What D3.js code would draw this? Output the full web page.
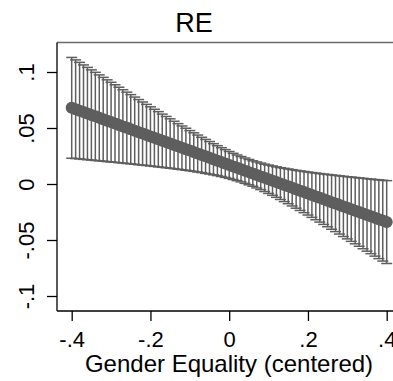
<!DOCTYPE html>
<html>
<head>
<meta charset="utf-8">
<script src="https://cdn.jsdelivr.net/npm/d3@7"></script>
<style>
  html, body { margin: 0; padding: 0; background: #fff; }
  svg { display: block; }
  text { font-family: "Liberation Sans", Arial, Helvetica, sans-serif; fill: #000; }
</style>
</head>
<body>
<svg id="chart" width="393" height="381"></svg>
<script>
// Predicted effect across centered gender equality, with 95% confidence limits
const xValues = [
  -0.40, -0.39, -0.38, -0.37, -0.36, -0.35, -0.34, -0.33, -0.32, -0.31,
  -0.30, -0.29, -0.28, -0.27, -0.26, -0.25, -0.24, -0.23, -0.22, -0.21,
  -0.20, -0.19, -0.18, -0.17, -0.16, -0.15, -0.14, -0.13, -0.12, -0.11,
  -0.10, -0.09, -0.08, -0.07, -0.06, -0.05, -0.04, -0.03, -0.02, -0.01,
   0.00,  0.01,  0.02,  0.03,  0.04,  0.05,  0.06,  0.07,  0.08,  0.09,
   0.10,  0.11,  0.12,  0.13,  0.14,  0.15,  0.16,  0.17,  0.18,  0.19,
   0.20,  0.21,  0.22,  0.23,  0.24,  0.25,  0.26,  0.27,  0.28,  0.29,
   0.30,  0.31,  0.32,  0.33,  0.34,  0.35,  0.36,  0.37,  0.38,  0.39,
   0.40
];
const estimate = [
  0.0680, 0.0667, 0.0655, 0.0642, 0.0629, 0.0616, 0.0604, 0.0591, 0.0578, 0.0565,
  0.0553, 0.0540, 0.0527, 0.0514, 0.0502, 0.0489, 0.0476, 0.0463, 0.0451, 0.0438,
  0.0425, 0.0412, 0.0400, 0.0387, 0.0374, 0.0361, 0.0349, 0.0336, 0.0323, 0.0310,
  0.0298, 0.0285, 0.0272, 0.0259, 0.0247, 0.0234, 0.0221, 0.0208, 0.0196, 0.0183,
  0.0170, 0.0157, 0.0145, 0.0132, 0.0119, 0.0106, 0.0094, 0.0081, 0.0068, 0.0055,
  0.0043, 0.0030, 0.0017, 0.0004, -0.0009, -0.0021, -0.0034, -0.0047, -0.0060, -0.0072,
  -0.0085, -0.0098, -0.0111, -0.0123, -0.0136, -0.0149, -0.0162, -0.0174, -0.0187, -0.0200,
  -0.0213, -0.0225, -0.0238, -0.0251, -0.0264, -0.0276, -0.0289, -0.0302, -0.0315, -0.0327,
  -0.0340
];
const upper = [
  0.1130, 0.1108, 0.1086, 0.1063, 0.1041, 0.1019, 0.0997, 0.0974, 0.0952, 0.0930,
  0.0908, 0.0886, 0.0864, 0.0842, 0.0820, 0.0798, 0.0776, 0.0754, 0.0732, 0.0711,
  0.0689, 0.0667, 0.0646, 0.0624, 0.0603, 0.0582, 0.0560, 0.0539, 0.0518, 0.0498,
  0.0477, 0.0457, 0.0437, 0.0417, 0.0398, 0.0379, 0.0360, 0.0342, 0.0324, 0.0307,
  0.0290, 0.0274, 0.0259, 0.0245, 0.0232, 0.0219, 0.0207, 0.0197, 0.0187, 0.0177,
  0.0169, 0.0161, 0.0153, 0.0146, 0.0140, 0.0134, 0.0128, 0.0122, 0.0117, 0.0112,
  0.0107, 0.0102, 0.0098, 0.0093, 0.0089, 0.0085, 0.0081, 0.0077, 0.0073, 0.0069,
  0.0065, 0.0062, 0.0058, 0.0054, 0.0051, 0.0047, 0.0044, 0.0040, 0.0037, 0.0033,
  0.0030
];
const lower = [
  0.0230, 0.0227, 0.0224, 0.0220, 0.0217, 0.0214, 0.0210, 0.0207, 0.0204, 0.0200,
  0.0197, 0.0194, 0.0190, 0.0187, 0.0183, 0.0180, 0.0176, 0.0172, 0.0169, 0.0165,
  0.0161, 0.0157, 0.0153, 0.0149, 0.0145, 0.0141, 0.0137, 0.0132, 0.0128, 0.0123,
  0.0118, 0.0113, 0.0107, 0.0102, 0.0095, 0.0089, 0.0082, 0.0075, 0.0067, 0.0059,
  0.0050, 0.0040, 0.0030, 0.0019, 0.0006, -0.0007, -0.0020, -0.0035, -0.0050, -0.0067,
  -0.0084, -0.0101, -0.0119, -0.0138, -0.0157, -0.0176, -0.0196, -0.0216, -0.0236, -0.0256,
  -0.0277, -0.0298, -0.0319, -0.0340, -0.0361, -0.0382, -0.0404, -0.0425, -0.0447, -0.0469,
  -0.0490, -0.0512, -0.0534, -0.0556, -0.0578, -0.0600, -0.0622, -0.0644, -0.0666, -0.0688,
  -0.0710
];
const xTicks = [-0.4, -0.2, 0, 0.2, 0.4];
const xTickLabels = ["-.4", "-.2", "0", ".2", ".4"];
const yTicks = [-0.1, -0.05, 0, 0.05, 0.1];
const yTickLabels = ["-.1", "-.05", "0", ".05", ".1"];
const titleText = "RE";
const xTitle = "Gender Equality (centered)";

const rows = xValues.map((x, i) => ({ x, est: estimate[i], hi: upper[i], lo: lower[i] }));

const svg = d3.select("#chart");
const plot = { left: 57, right: 402, top: 42.5, bottom: 311 };
const ink = "#5e5e5e";
const fontStack = "'Liberation Sans', Arial, Helvetica, sans-serif";

const x = d3.scaleLinear().domain([-0.4, 0.4]).range([71.7, 386.7]);
const y = d3.scaleLinear().domain([-0.1, 0.1]).range([296, 72]);

// plot region outline along the top
svg.append("line")
  .attr("x1", plot.left).attr("x2", plot.right)
  .attr("y1", plot.top).attr("y2", plot.top)
  .attr("stroke", "#6a6a6a").attr("stroke-width", 1.3);

// confidence interval spikes with caps
const ci = svg.append("g").attr("stroke", ink).attr("stroke-width", 1.5);
ci.selectAll("line.spike").data(rows).join("line")
  .attr("class", "spike")
  .attr("x1", d => x(d.x)).attr("x2", d => x(d.x))
  .attr("y1", d => y(d.hi)).attr("y2", d => y(d.lo));
const capHalf = 5.5;
ci.selectAll("line.caphi").data(rows).join("line")
  .attr("class", "caphi")
  .attr("x1", d => x(d.x) - capHalf).attr("x2", d => x(d.x) + capHalf)
  .attr("y1", d => y(d.hi)).attr("y2", d => y(d.hi));
ci.selectAll("line.caplo").data(rows).join("line")
  .attr("class", "caplo")
  .attr("x1", d => x(d.x) - capHalf).attr("x2", d => x(d.x) + capHalf)
  .attr("y1", d => y(d.lo)).attr("y2", d => y(d.lo));

// point estimates: connected markers
const line = d3.line().x(d => x(d.x)).y(d => y(d.est));
svg.append("path").datum(rows)
  .attr("d", line)
  .attr("fill", "none").attr("stroke", ink)
  .attr("stroke-width", 11).attr("stroke-linecap", "round").attr("stroke-linejoin", "round");
svg.append("g").selectAll("circle").data(rows).join("circle")
  .attr("cx", d => x(d.x)).attr("cy", d => y(d.est)).attr("r", 6)
  .attr("fill", ink);

// y axis
const yAxis = d3.axisLeft(y).tickValues(yTicks).tickSize(10).tickFormat((d, i) => yTickLabels[i]);
const gy = svg.append("g").attr("transform", `translate(${plot.left},0)`).call(yAxis);
gy.select(".domain").remove();
gy.selectAll(".tick line").attr("stroke", "#000").attr("stroke-width", 1.3);
gy.selectAll(".tick text")
  .attr("x", null).attr("dy", null)
  .attr("transform", "translate(-23,0) rotate(-90)")
  .attr("text-anchor", "middle")
  .attr("font-size", 22)
  .style("font-family", fontStack)
  .attr("fill", "#000");
svg.append("line")
  .attr("x1", plot.left).attr("x2", plot.left)
  .attr("y1", plot.top).attr("y2", plot.bottom)
  .attr("stroke", "#000").attr("stroke-width", 1.3);

// x axis
const xAxis = d3.axisBottom(x).tickValues(xTicks).tickSize(10).tickFormat((d, i) => xTickLabels[i]);
const gx = svg.append("g").attr("transform", `translate(0,${plot.bottom})`).call(xAxis);
gx.select(".domain").remove();
gx.selectAll(".tick line").attr("stroke", "#000").attr("stroke-width", 1.3);
gx.selectAll(".tick text")
  .attr("y", 36).attr("dy", null)
  .attr("font-size", 22)
  .style("font-family", fontStack)
  .attr("fill", "#000");
svg.append("line")
  .attr("x1", plot.left).attr("x2", plot.right)
  .attr("y1", plot.bottom).attr("y2", plot.bottom)
  .attr("stroke", "#000").attr("stroke-width", 1.3);

// titles
svg.append("text")
  .attr("x", 229).attr("y", 372)
  .attr("text-anchor", "middle").attr("font-size", 24)
  .text(xTitle);
svg.append("text")
  .attr("x", 194).attr("y", 32)
  .attr("text-anchor", "middle").attr("font-size", 27)
  .text(titleText);
</script>
</body>
</html>
